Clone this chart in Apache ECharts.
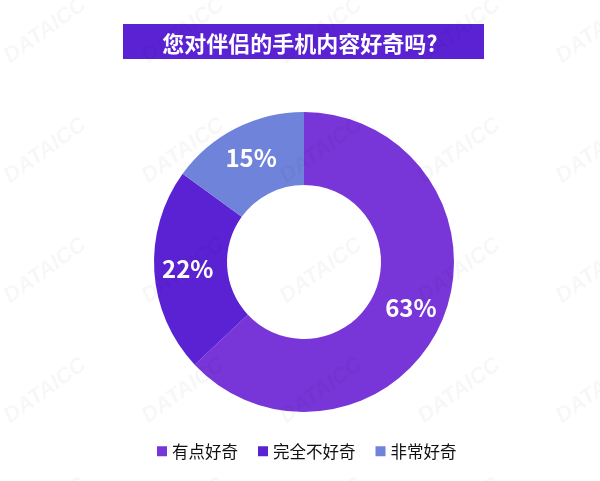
<!DOCTYPE html>
<html><head><meta charset="utf-8">
<script src="https://cdn.jsdelivr.net/npm/echarts@6/dist/echarts.min.js"></script>
<style>html,body{margin:0;padding:0;background:#fff}#c{width:600px;height:481px}</style>
</head><body><div id="c"></div>
<script>
const titleText = '您对伴侣的手机内容好奇吗?';
const categories = ['有点好奇', '完全不好奇', '非常好奇'];
const values = [63, 22, 15];
const colors = ['#7835D8', '#5A22D3', '#7083DB'];

const chart = echarts.init(document.getElementById('c'));
const font = '"Noto Sans CJK SC", "Noto Sans", sans-serif';
const wm = [];
for (let r = 0; r < 5; r++) for (let c = 0; c < 5; c++) {
  wm.push({type:'text', x: 0 + c*138, y: 50 + r*120, rotation: Math.PI/5, silent: true, z: 100,
    style:{text:'DATAICC', font:'bold italic 22px Arial', fill:'rgba(0,0,0,0.03)'}});
}
chart.setOption({
  backgroundColor: '#fff',
  color: colors,
  graphic: [{type:'rect', shape:{x:123, y:24, width:361, height:35}, style:{fill:'#5B22D3'}, z:0}].concat(wm),
  title: {text: titleText, left: 'center', top: 28, textStyle:{color:'#fff', fontSize:22, fontWeight:'bold', fontFamily: font}},
  legend: {top: 438, left: 152, itemWidth: 10, itemHeight: 10, itemGap: 20, icon: 'rect',
    textStyle:{fontSize:16.5, color:'#111', fontFamily: font},
    data: categories},
  series: [{
    type: 'pie', center: [304, 262], radius: [77, 150], startAngle: 90, clockwise: true,
    avoidLabelOverlap: false, silent: true,
    label: {show: true, position: 'inside', formatter: '{c}%', color:'#fff', fontSize: 24, fontWeight:'bold', fontFamily: font},
    labelLine: {show:false},
    itemStyle: {borderWidth: 0},
    data: categories.map((n,i)=>({name:n, value: values[i], itemStyle:{color: colors[i]}}))
  }]
});
</script></body></html>
